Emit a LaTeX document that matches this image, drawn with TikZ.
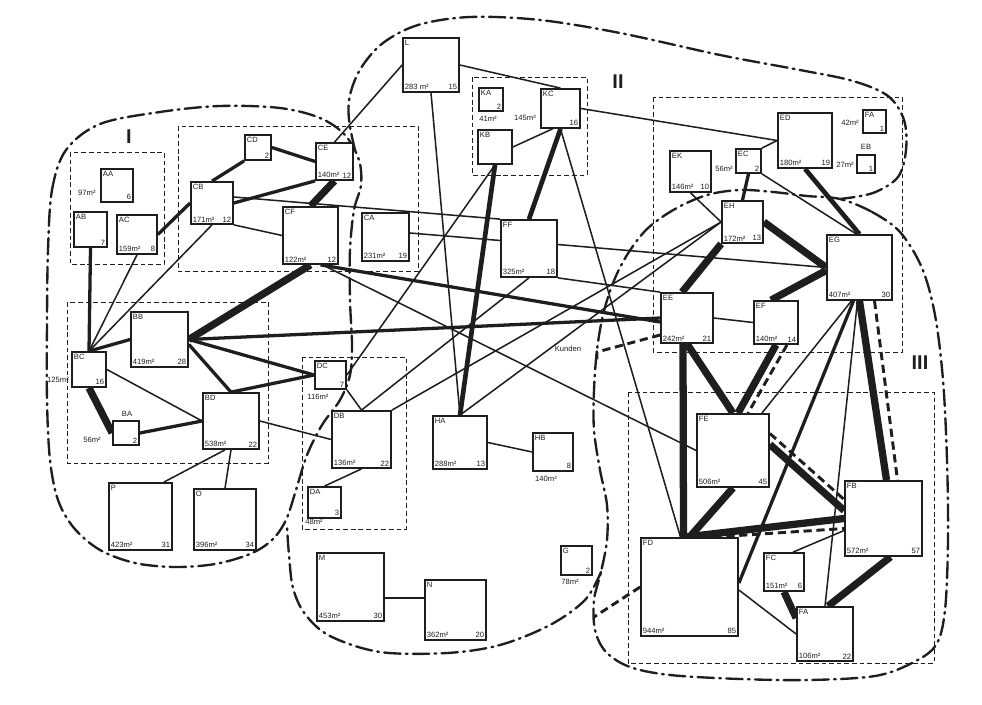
\documentclass[tikz,border=0pt]{standalone}
\usepackage{fontspec}
\setmainfont{Liberation Sans}
\usetikzlibrary{positioning,calc,backgrounds}
\definecolor{ink}{HTML}{1E1E1E}
\tikzset{
  room/.style={draw=ink,fill=white,line width=1.5pt,inner sep=0pt},
  tag/.style={font=\fontsize{6.5}{7}\selectfont,inner sep=2.2pt,text=ink},
  note/.style={font=\fontsize{6.5}{7}\selectfont,inner sep=1pt,text=ink},
  zonelabel/.style={font=\fontsize{17}{17}\selectfont\bfseries,text=ink},
  dept/.style={draw=ink,line width=.8pt,dash pattern=on 4pt off 2.5pt},
  region/.style={draw=ink,line width=2pt,line cap=round,
    dash pattern=on 14pt off 4.5pt on 1.5pt off 4.5pt},
  link/.style={draw=ink,line width=1.3pt},
  strong/.style={draw=ink,line width=2.8pt},
  bold/.style={draw=ink,line width=4pt},
  heavy/.style={draw=ink,line width=6.2pt},
  dashlink/.style={draw=ink,line width=2.5pt,dash pattern=on 7pt off 4pt}
}
% room: name, title, centre, width, height, area, count
\newcommand{\room}[7]{%
  \node[room,minimum width=#4*0.03cm,minimum height=#5*0.03cm,
    label={[tag,anchor=north west]north west:#2},
    label={[tag,anchor=south west]south west:#6},
    label={[tag,anchor=south east]south east:#7}] (#1) at (#3) {};}

\begin{document}
\begin{tikzpicture}[x=0.03cm,y=-0.03cm]
\useasboundingbox (0,0) rectangle (982,705);

% zone I
\room{AA}{AA}{117,185.5}{32}{33}{}{6}
\room{AB}{AB}{90.5,229.5}{33}{35}{}{7}
\room{AC}{AC}{137,234.5}{40}{39}{159m²}{8}
\room{CD}{CD}{258,147.5}{26}{25}{}{2}
\room{CE}{CE}{334.5,161.5}{37}{37}{140m²}{12}
\room{CB}{CB}{212,203}{42}{42}{171m²}{12}
\room{CF}{CF}{310.5,235.5}{55}{57}{122m²}{12}
\room{BB}{BB}{159.5,339.5}{57}{55}{419m²}{28}
\room{BC}{BC}{89,369.5}{34}{35}{}{16}
\room{BA}{}{126,433}{26}{24}{}{2}
\room{BD}{BD}{231,421}{56}{56}{538m²}{22}
\room{DC}{DC}{330.5,375}{31}{28}{}{7}
\room{P}{P}{140.5,516.5}{63}{67}{423m²}{31}
\room{O}{O}{225,519.5}{62}{61}{396m²}{34}

% zone II
\room{CA}{CA}{385.5,237}{47}{48}{231m²}{19}
\room{L}{L}{431,65}{56}{54}{283 m²}{15}
\room{KA}{KA}{491,99.5}{24}{23}{}{2}
\room{KC}{KC}{560.5,108.5}{39}{39}{}{16}
\room{KB}{KB}{495,147}{34}{34}{}{}
\room{FF}{FF}{529,248.5}{56}{57}{325m²}{18}
\room{ED}{ED}{805,140.5}{54}{55}{180m²}{19}
\room{FA1}{FA}{874.5,121.5}{23}{23}{}{1}
\room{EB}{}{866,164}{18}{18}{}{1}
\room{EK}{EK}{690.5,171.5}{41}{41}{146m²}{10}
\room{EC}{EC}{748.5,161}{25}{24}{}{2}
\room{DB}{DB}{361.5,439.5}{59}{57}{136m²}{22}
\room{DA}{DA}{324.5,502.5}{33}{31}{}{3}
\room{HA}{HA}{460,442.5}{54}{53}{288m²}{13}
\room{HB}{HB}{553,452}{40}{38}{}{8}
\room{G}{G}{576.5,560.5}{31}{29}{}{2}
\room{M}{M}{350.5,587}{67}{68}{453m²}{30}
\room{N}{N}{455.5,610}{61}{60}{362m²}{20}

% zone III
\room{EH}{EH}{742.5,222}{41}{42}{172m²}{13}
\room{EG}{EG}{859.5,267.5}{65}{65}{407m²}{30}
\room{EE}{EE}{687,318}{52}{50}{242m²}{21}
\room{EF}{EF}{776,322.5}{44}{43}{140m²}{14}
\room{FE}{FE}{733,450.5}{72}{73}{506m²}{45}
\room{FB}{FB}{883.5,518.5}{77}{75}{572m²}{57}
\room{FD}{FD}{689.5,587}{97}{98}{944m²}{85}
\room{FC}{FC}{784,572}{40}{38}{151m²}{6}
\room{FA}{FA}{825,634}{56}{54}{106m²}{22}

% texts beside rooms
\node[note,anchor=east] (AAa) at (97,193) {97m²};
\node[note] (KAa) at (488,119) {41m²};
\node[note] (KCa) at (525,118) {145m²};
\node[note] (ECa) at (724,169) {56m²};
\node[note] (FA1a) at (850,123) {42m²};
\node[note] (EBt) at (866,147) {EB};
\node[note] (EBa) at (845,165) {27m²};
\node[note] (BCa) at (58,380) {125m²};
\node[note] (BAt) at (127,414) {BA};
\node[note] (BAa) at (92,440) {56m²};
\node[note] (DCa) at (318,397) {116m²};
\node[note] (DAa) at (314,522) {48m²};
\node[note] (HBa) at (546,479) {140m²};
\node[note] (Ga) at (570,582) {78m²};
\node[note] (kunden) at (568,349) {Kunden};

\node[zonelabel] (zoneI) at (129,137) {I};
\node[zonelabel] (zoneII) at (618,82) {II};
\node[zonelabel] (zoneIII) at (920,363) {III};

\coordinate (kun) at (597,352);
\coordinate (fdk) at (594,617);

\begin{scope}[on background layer]
\fill[white] (0,0) rectangle (982,705);

% departments
\draw[dept] (70,152) rectangle (164,264);
\draw[dept] (178,126) rectangle (418,271);
\draw[dept] (472,77) rectangle (587,175);
\draw[dept] (653,97) rectangle (902,352);
\draw[dept] (67,302) rectangle (268,463);
\draw[dept] (302,357) rectangle (406,529);
\draw[dept] (628,392) rectangle (934,663);

% zones
\draw[region] plot[smooth cycle,tension=.55] coordinates {
  (48,250) (52,190) (66,150) (100,124) (160,112) (220,106) (280,108)
  (320,118) (345,135) (359,160) (361,185) (354,210) (350,250) (350,300)
  (352,345) (350,375) (340,400) (322,425) (307,455) (296,490) (286,520)
  (272,540) (250,554) (215,564) (175,567) (135,563) (100,550) (74,528)
  (58,500) (50,460) (47,400) (47,320)};
\draw[region] plot[smooth cycle,tension=.55] coordinates {
  (840,199) (872,212) (900,232) (922,268) (935,315) (943,380) (947,460)
  (948,540) (945,610) (936,645) (912,663) (875,676) (810,680) (740,679)
  (670,675) (630,667) (606,652) (595,630) (594,600) (601,572) (607,540)
  (607,505) (600,470) (594,430) (594,390) (597,350) (603,315) (613,283)
  (627,255) (647,229) (675,209) (707,195) (740,190) (773,192) (807,196)};
\draw[region] plot[smooth,tension=.55] coordinates {
  (355,150) (349,120) (350,95) (361,68) (383,43) (418,25) (470,17)
  (540,20) (620,33) (720,55) (800,70) (853,81) (888,96) (904,120)
  (906,150) (898,177) (873,193) (840,199)};
\draw[region] plot[smooth,tension=.55] coordinates {
  (601,572) (585,600) (550,625) (500,645) (447,653) (380,652) (330,636)
  (305,614) (293,588) (289,555) (287,527)};

% links zone I
\draw[strong] (AB.south) -- (BC.north);
\draw[link] (AC.south) -- (BC.north);
\draw[link] (CB.south) -- (BC.north);
\draw[strong] (BC.north) -- (BB.west);
\draw[strong] (AC.east) -- (CB.west);
\draw[strong] (CB.north) -- (CD.south west);
\draw[strong] (CD.east) -- (CE.west);
\draw[strong] (CB.east) -- (CE.south west);
\draw[heavy] (CE.south) -- (CF.north);
\draw[heavy] (CF.south) -- (BB.east);
\draw[link] (CB.south east) -- (CF.west);
\draw[link] ($(CB.east)+(0,-6)$) -- (FF.north west);
\draw[link] ($(CA.east)+(0,-4)$) -- ($(FF.west)+(0,-8)$);
\draw[strong] ($(CF.south)+(10,0)$) -- ($(EE.west)+(0,4)$);
\draw[link] ($(CF.south)+(12,0)$) -- (FE.west);
\draw[strong] (BB.east) -- (EE.west);
\draw[strong] (BB.east) -- (DC.west);
\draw[strong] ($(BB.east)+(0,5)$) -- (BD.north);
\draw[heavy] (BC.south) -- (BA.west);
\draw[link] (BC.east) -- (BD.west);
\draw[strong] (BA.east) -- (BD.west);
\draw[strong] (BD.north) -- (DC.west);
\draw[link] (BD.east) -- (DB.west);
\draw[link] ($(BD.south)+(-6,0)$) -- ($(P.north east)+(-9,0)$);
\draw[link] (BD.south) -- (O.north);

% links zone II
\draw[link] (DC.south east) -- (DB.north);
\draw[link] (DB.south) -- (DA.north);
\draw[link] (KB.south) -- (DC.east);
\draw[link] (FF.south) -- (DB.north);
\draw[link] (DB.north east) -- (EH.west);
\draw[link] (L.west) -- (CE.north);
\draw[link] (L.east) -- (KC.north);
\draw[link] (L.south) -- (HA.north);
\draw[link] (KB.east) -- ($(KC.south)+(-8,0)$);
\draw[bold] (KB.south) -- (HA.north);
\draw[bold] (KC.south) -- (FF.north);
\draw[link] (KC.south) -- ($(FD.north)+(-9,0)$);
\draw[link] (KC.east) -- (ED.west);
\draw[link] (HA.north) -- (EH.west);
\draw[link] (HA.east) -- (HB.west);
\draw[link] ($(M.east)+(0,11)$) -- ($(N.west)+(0,-12)$);
\draw[link] ($(FF.east)+(0,-4)$) -- (EG.west);
\draw[link] (FF.south east) -- (EE.north west);
\draw[link] (ED.west) -- (EC.north east);
\draw[link] (EK.south) -- (EH.west);

% links zone III
\draw[strong] (EC.south) -- (EH.north);
\draw[link] (EC.south east) -- ($(EG.north)+(-3,0)$);
\draw[bold] (ED.south) -- (EG.north);
\draw[heavy] (EH.east) -- (EG.west);
\draw[heavy] (EH.south west) -- ($(EE.north)+(-5,0)$);
\draw[link] (EE.east) -- (EF.west);
\draw[heavy] ($(EG.west)+(0,3)$) -- ($(EF.north)+(-5,0)$);
\draw[heavy] (EF.south) -- ($(FE.north)+(5,0)$);
\draw[dashlink] ($(EF.south)+(11,0)$) -- ($(FE.north)+(15,0)$);
\draw[heavy] ($(EE.south)+(-4,0)$) -- ($(FD.north)+(-6,0)$);
\draw[heavy] (EE.south) -- (FE.north);
\draw[heavy] (FE.south) -- (FD.north);
\draw[heavy] (EG.south) -- ($(FB.north)+(3,0)$);
\draw[dashlink] ($(EG.south)+(15,0)$) -- ($(FB.north)+(14,0)$);
\draw[strong] ($(EG.south)+(-6,0)$) -- ($(FD.east)+(0,-4)$);
\draw[link] ($(EG.south)+(-2,0)$) -- (FA.north);
\draw[link] ($(EG.south)+(-8,0)$) -- ($(FE.north east)+(-8,0)$);
\draw[heavy] ($(FE.east)+(0,-6)$) -- ($(FB.west)+(0,-8)$);
\draw[dashlink] ($(FE.east)+(0,-17)$) -- ($(FB.west)+(0,-19)$);
\draw[heavy] ($(FD.north)+(-5,0)$) -- (FB.west);
\draw[dashlink] ($(FD.north)+(24,0)$) -- ($(FB.west)+(0,10)$);
\draw[heavy] ($(FB.south)+(7,0)$) -- ($(FA.north)+(3,0)$);
\draw[heavy] (FC.south) -- ($(FA.west)+(0,-16)$);
\draw[link] ($(FD.east)+(0,3)$) -- (FA.west);
\draw[link] ($(FC.north)+(9,0)$) -- ($(FB.west)+(0,12)$);

% customers
\draw[dashlink] ($(EE.west)+(0,17)$) -- (kun) -- ++(0,9);
\draw[dashlink] (FD.west) -- (fdk);
\end{scope}
\end{tikzpicture}
\end{document}
